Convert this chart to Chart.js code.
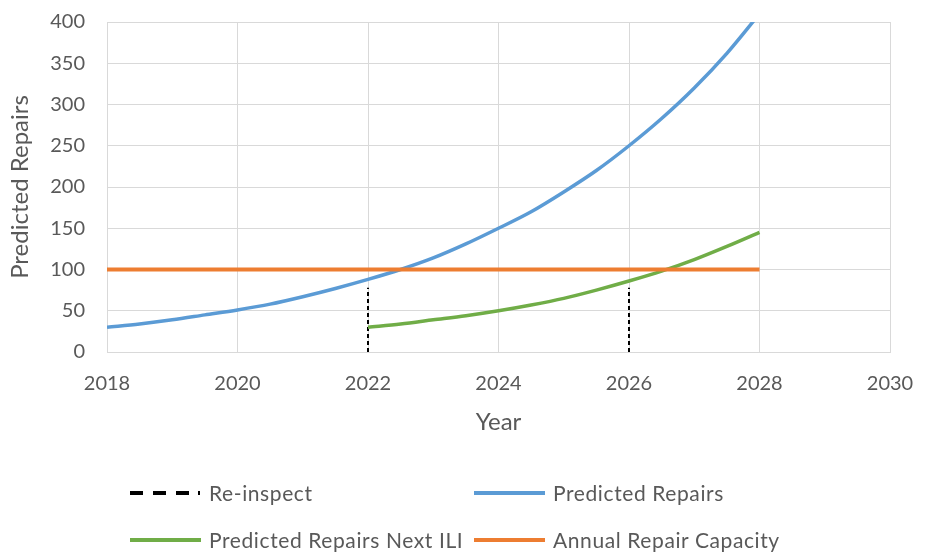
<!DOCTYPE html>
<html>
<head>
<meta charset="utf-8">
<script src="https://cdn.jsdelivr.net/npm/chart.js@4.4.1/dist/chart.umd.min.js"></script>
<style>
  html, body { margin: 0; padding: 0; background: #ffffff; }
  #wrap { position: relative; width: 935px; height: 552px; }
  #chart { position: absolute; left: 0; top: 0; }
  .leg { position: absolute; display: flex; align-items: center; font-family: Lato, "Open Sans", sans-serif; font-size: 21px; letter-spacing: 0.6px; color: #595959; white-space: nowrap; }
  .leg svg { margin-right: 8px; }
</style>
</head>
<body>
<div id="wrap">
  <canvas id="chart" width="935" height="552"></canvas>
  <div class="leg" id="leg0" style="left:130px; top:480px;"></div>
  <div class="leg" id="leg1" style="left:474px; top:480px;"></div>
  <div class="leg" id="leg2" style="left:130px; top:527px;"></div>
  <div class="leg" id="leg3" style="left:474px; top:527px;"></div>
</div>
<script>
// Half-year steps for the projected curves
const years = [2018, 2018.5, 2019, 2019.5, 2020, 2020.5, 2021, 2021.5, 2022, 2022.5,
               2023, 2023.5, 2024, 2024.5, 2025, 2025.5, 2026, 2026.5, 2027, 2027.5, 2028];
const predictedRepairs = [30, 34, 39, 45, 51, 58, 67, 77, 88, 100,
                          114, 131, 150, 170, 194, 220, 250, 283, 320, 362, 410];

const nextIliYears = [2022, 2022.5, 2023, 2023.5, 2024, 2024.5, 2025, 2025.5, 2026, 2026.5, 2027, 2027.5, 2028];
const nextIliRepairs = [30, 34, 39, 44, 50, 57, 65, 75, 86, 98, 112, 128, 145];

const capacityYears = [2018, 2028];
const capacityValues = [100, 100];

const reinspectYears = [2022, 2026];
const reinspectHeight = [78, 78];

const xTicks = [2018, 2020, 2022, 2024, 2026, 2028, 2030];
const yTicks = [0, 50, 100, 150, 200, 250, 300, 350, 400];

const labels = {
  reinspect: 'Re-inspect',
  predicted: 'Predicted Repairs',
  nextIli: 'Predicted Repairs Next ILI',
  capacity: 'Annual Repair Capacity'
};

const colors = {
  blue: '#5b9bd5',
  green: '#70ad47',
  orange: '#ed7d31',
  black: '#000000',
  grid: '#d9d9d9',
  text: '#595959'
};

const pts = (xs, ys) => xs.map((x, i) => ({ x: x, y: ys[i] }));

// Vertical re-inspection markers, separated by gaps
const reinspectPts = [];
reinspectYears.forEach((yr, i) => {
  if (i > 0) reinspectPts.push({ x: yr, y: null });
  reinspectPts.push({ x: yr, y: 0 });
  reinspectPts.push({ x: yr, y: reinspectHeight[i] });
});

const tickFont = { family: 'Lato, "Open Sans", sans-serif', size: 20 };
const titleFont = { family: 'Lato, "Open Sans", sans-serif', size: 24 };

new Chart(document.getElementById('chart'), {
  type: 'line',
  data: {
    datasets: [
      {
        label: labels.capacity, data: pts(capacityYears, capacityValues),
        borderColor: colors.orange, borderWidth: 4, pointRadius: 0, order: 0
      },
      {
        label: labels.nextIli, data: pts(nextIliYears, nextIliRepairs),
        borderColor: colors.green, borderWidth: 3.5, pointRadius: 0,
        cubicInterpolationMode: 'monotone', order: 1
      },
      {
        label: labels.predicted, data: pts(years, predictedRepairs),
        borderColor: colors.blue, borderWidth: 3.5, pointRadius: 0,
        cubicInterpolationMode: 'monotone', clip: 0, order: 2
      },
      {
        label: labels.reinspect, data: reinspectPts,
        borderColor: colors.black, borderWidth: 2, borderDash: [4, 3],
        pointRadius: 0, spanGaps: false, order: 3
      }
    ]
  },
  options: {
    responsive: false,
    animation: false,
    events: [],
    layout: { padding: { top: 22, right: 45, bottom: 112, left: 0 } },
    plugins: { legend: { display: false }, tooltip: { enabled: false } },
    scales: {
      x: {
        type: 'linear', min: 2018, max: 2030,
        afterBuildTicks: s => { s.ticks = xTicks.map(v => ({ value: v })); },
        afterFit: s => { s.height = 88; },
        ticks: { font: tickFont, color: colors.text, padding: 20, maxRotation: 0,
                 callback: v => String(v) },
        grid: { color: colors.grid, drawTicks: false },
        border: { color: colors.grid },
        title: { display: true, text: 'Year', font: titleFont, color: colors.text,
                 padding: { top: 0, bottom: 3 } }
      },
      y: {
        min: 0, max: 400,
        afterBuildTicks: s => { s.ticks = yTicks.map(v => ({ value: v })); },
        afterFit: s => { s.width = 107; s.paddingTop = 0; s.paddingBottom = 0; },
        ticks: { font: tickFont, color: colors.text, padding: 22 },
        grid: { color: colors.grid, drawTicks: false },
        border: { color: colors.grid },
        title: { display: true, text: 'Predicted Repairs', font: titleFont, color: colors.text,
                 padding: { top: 6, bottom: 0 } }
      }
    }
  }
});

// Legend below the plot, two rows of two entries
function swatch(color, dashed) {
  const ns = 'http://www.w3.org/2000/svg';
  const svg = document.createElementNS(ns, 'svg');
  svg.setAttribute('width', 71);
  svg.setAttribute('height', 10);
  const ln = document.createElementNS(ns, 'line');
  ln.setAttribute('x1', 0); ln.setAttribute('x2', 71);
  ln.setAttribute('y1', 5); ln.setAttribute('y2', 5);
  ln.setAttribute('stroke', color);
  ln.setAttribute('stroke-width', 4);
  if (dashed) ln.setAttribute('stroke-dasharray', '13 10 13 10 13 9 2 20');
  svg.appendChild(ln);
  return svg;
}
const entries = [
  ['leg0', colors.black, true, labels.reinspect],
  ['leg1', colors.blue, false, labels.predicted],
  ['leg2', colors.green, false, labels.nextIli],
  ['leg3', colors.orange, false, labels.capacity]
];
entries.forEach(([id, c, d, t]) => {
  const el = document.getElementById(id);
  el.appendChild(swatch(c, d));
  const span = document.createElement('span');
  span.textContent = t;
  el.appendChild(span);
});
</script>
</body>
</html>
